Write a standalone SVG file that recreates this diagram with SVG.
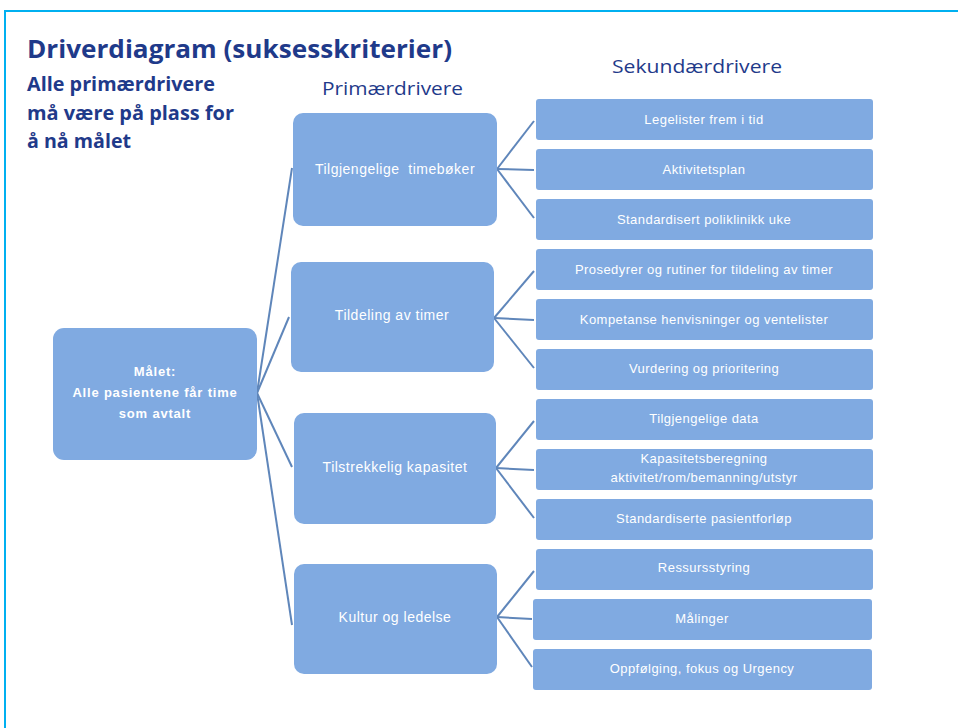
<svg xmlns="http://www.w3.org/2000/svg" width="958" height="728" viewBox="0 0 958 728">
<style>
.box{fill:#80AAE1;}
.pt{font-family:"Liberation Sans",Arial,sans-serif;font-size:14px;letter-spacing:0.5px;fill:#ffffff;text-anchor:middle;}
.st{font-family:"Liberation Sans",Arial,sans-serif;font-size:13px;letter-spacing:0.45px;fill:#ffffff;text-anchor:middle;}
.gt{font-family:"Liberation Sans",Arial,sans-serif;font-size:13px;letter-spacing:0.8px;font-weight:bold;fill:#ffffff;text-anchor:middle;}
.hd{font-family:"Open Sans","Liberation Sans",sans-serif;fill:#1F3A8A;}
.conn line{stroke:#5F86BA;stroke-width:2;}
</style>
<rect x="0" y="0" width="958" height="728" fill="#ffffff"/>
<g id="frame">
<line x1="5" y1="11" x2="958" y2="11" stroke="#00B0F0" stroke-width="2"/>
<line x1="5" y1="10" x2="5" y2="728" stroke="#00B0F0" stroke-width="2"/>
</g>
<g id="titles">
<text class="hd" x="27" y="58" font-size="25" font-weight="bold" textLength="425" lengthAdjust="spacingAndGlyphs">Driverdiagram (suksesskriterier)</text>
<text class="hd" x="27" y="91" font-size="19" font-weight="bold" textLength="188" lengthAdjust="spacingAndGlyphs">Alle primærdrivere</text>
<text class="hd" x="27" y="120" font-size="19" font-weight="bold" textLength="207" lengthAdjust="spacingAndGlyphs">må være på plass for</text>
<text class="hd" x="27" y="148" font-size="19" font-weight="bold" textLength="104" lengthAdjust="spacingAndGlyphs">å nå målet</text>
<text class="hd" x="322" y="95" font-size="19" textLength="141" lengthAdjust="spacingAndGlyphs">Primærdrivere</text>
<text class="hd" x="612" y="73" font-size="19" textLength="170" lengthAdjust="spacingAndGlyphs">Sekundærdrivere</text>
</g>
<g class="conn" id="connectors">
<line x1="257" y1="393" x2="292" y2="168"/>
<line x1="257" y1="393" x2="289" y2="317"/>
<line x1="257" y1="393" x2="292" y2="467"/>
<line x1="257" y1="393" x2="292" y2="625"/>
<line x1="497" y1="169" x2="534" y2="121"/>
<line x1="497" y1="169" x2="534" y2="170"/>
<line x1="497" y1="169" x2="534" y2="218"/>
<line x1="494" y1="318" x2="534" y2="271"/>
<line x1="494" y1="318" x2="534" y2="320"/>
<line x1="494" y1="318" x2="534" y2="368"/>
<line x1="496" y1="468" x2="534" y2="421"/>
<line x1="496" y1="468" x2="534" y2="470"/>
<line x1="496" y1="468" x2="534" y2="518"/>
<line x1="497" y1="617" x2="534" y2="571"/>
<line x1="497" y1="617" x2="532" y2="619"/>
<line x1="497" y1="617" x2="532" y2="667"/>
</g>
<g id="goal">
<rect class="box" x="53" y="328" width="204" height="132" rx="11"/>
<text class="gt" x="155" y="376">Målet:</text>
<text class="gt" x="155" y="397">Alle pasientene får time</text>
<text class="gt" x="155" y="418">som avtalt</text>
</g>
<g id="p1"><rect class="box" x="293" y="113" width="204" height="113" rx="10"/><text class="pt" x="395" y="174" xml:space="preserve">Tilgjengelige  timebøker</text></g>
<g id="p2"><rect class="box" x="291" y="262" width="203" height="110" rx="10"/><text class="pt" x="392" y="320">Tildeling av timer</text></g>
<g id="p3"><rect class="box" x="294" y="413" width="202" height="111" rx="10"/><text class="pt" x="395" y="472">Tilstrekkelig kapasitet</text></g>
<g id="p4"><rect class="box" x="294" y="564" width="203" height="110" rx="10"/><text class="pt" x="395" y="622">Kultur og ledelse</text></g>
<g id="s1"><rect class="box" x="536" y="99" width="337" height="41" rx="3"/><text class="st" x="704" y="124">Legelister frem i tid</text></g>
<g id="s2"><rect class="box" x="536" y="149" width="337" height="41" rx="3"/><text class="st" x="704" y="174">Aktivitetsplan</text></g>
<g id="s3"><rect class="box" x="536" y="199" width="337" height="41" rx="3"/><text class="st" x="704" y="224">Standardisert poliklinikk uke</text></g>
<g id="s4"><rect class="box" x="536" y="249" width="337" height="41" rx="3"/><text class="st" x="704" y="274">Prosedyrer og rutiner for tildeling av timer</text></g>
<g id="s5"><rect class="box" x="536" y="299" width="337" height="41" rx="3"/><text class="st" x="704" y="324">Kompetanse henvisninger og ventelister</text></g>
<g id="s6"><rect class="box" x="536" y="349" width="337" height="41" rx="3"/><text class="st" x="704" y="373">Vurdering og prioritering</text></g>
<g id="s7"><rect class="box" x="536" y="399" width="337" height="41" rx="3"/><text class="st" x="704" y="423">Tilgjengelige data</text></g>
<g id="s8"><rect class="box" x="536" y="449" width="337" height="41" rx="3"/><text class="st" x="704" y="463">Kapasitetsberegning</text><text class="st" x="704" y="482">aktivitet/rom/bemanning/utstyr</text></g>
<g id="s9"><rect class="box" x="536" y="499" width="337" height="41" rx="3"/><text class="st" x="704" y="523">Standardiserte pasientforløp</text></g>
<g id="s10"><rect class="box" x="536" y="549" width="337" height="41" rx="3"/><text class="st" x="704" y="572">Ressursstyring</text></g>
<g id="s11"><rect class="box" x="533" y="599" width="339" height="41" rx="3"/><text class="st" x="702" y="623">Målinger</text></g>
<g id="s12"><rect class="box" x="533" y="649" width="339" height="41" rx="3"/><text class="st" x="702" y="673">Oppfølging,  fokus og Urgency</text></g>
</svg>
